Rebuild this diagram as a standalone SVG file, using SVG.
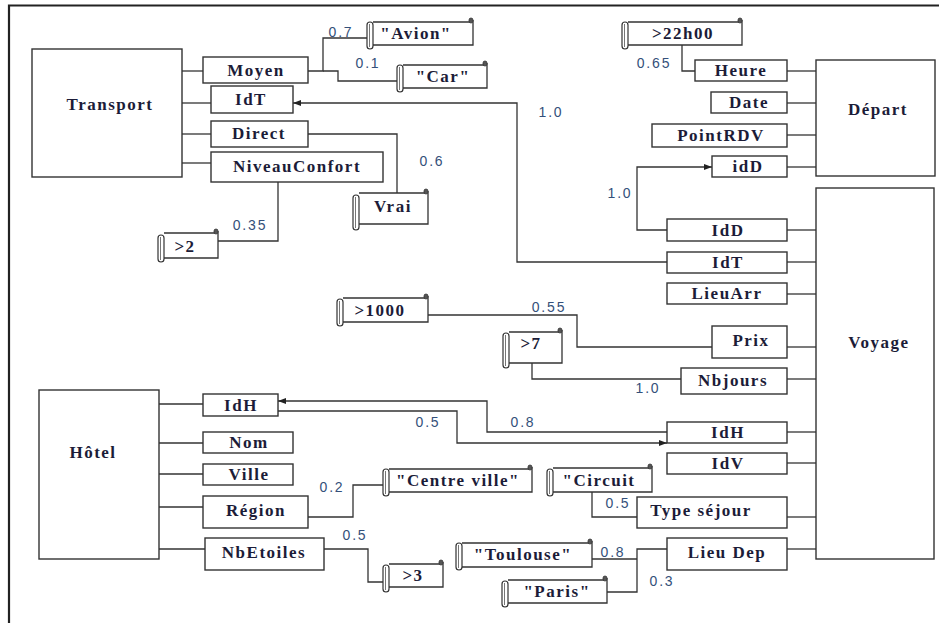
<svg xmlns="http://www.w3.org/2000/svg" width="939" height="623" viewBox="0 0 939 623">
<style>
.bg{fill:#ffffff}
.frame{stroke:#222;stroke-width:2.2;fill:none}
.box{fill:#fff;stroke:#333;stroke-width:1.4}
.t{font-family:"Liberation Serif","Times New Roman",serif;font-weight:bold;font-size:17px;letter-spacing:1.5px;fill:#1c1c38;text-anchor:middle}
.lbl{font-family:"Liberation Sans",Arial,sans-serif;font-size:14px;letter-spacing:1.8px;fill:#34507a;text-anchor:middle}
.c{fill:none;stroke:#333;stroke-width:1.3}
.sb{fill:#fff;stroke:#333;stroke-width:1.3}
.roll{fill:#fff;stroke:#333;stroke-width:1.2}
.rl{stroke:#666;stroke-width:0.9;fill:none}
.curl{fill:#555;stroke:#333;stroke-width:0.8}
</style>
<defs>
<marker id="ah" markerUnits="userSpaceOnUse" markerWidth="9" markerHeight="7" refX="8" refY="3" orient="auto">
<path d="M0,0 L8,3 L0,6 z" fill="#222"/>
</marker>
</defs>
<rect class="bg" x="0" y="0" width="939" height="623"/>
<path class="frame" d="M9,623 V5.5 H939"/>

<g id="connectors">
<path class="c" d="M182,71 H203"/>
<path class="c" d="M182,103 H211"/>
<path class="c" d="M182,134 H211"/>
<path class="c" d="M182,163 H211"/>
<path class="c" d="M787,71 H816"/>
<path class="c" d="M787,103 H816"/>
<path class="c" d="M787,135 H816"/>
<path class="c" d="M787,167 H816"/>
<path class="c" d="M787,230 H816"/>
<path class="c" d="M787,262 H816"/>
<path class="c" d="M787,294 H816"/>
<path class="c" d="M787,347 H816"/>
<path class="c" d="M787,379 H816"/>
<path class="c" d="M787,432 H816"/>
<path class="c" d="M787,463 H816"/>
<path class="c" d="M787,517 H816"/>
<path class="c" d="M787,549 H816"/>
<path class="c" d="M159,404 H203"/>
<path class="c" d="M159,443 H203"/>
<path class="c" d="M159,474 H203"/>
<path class="c" d="M159,507 H203"/>
<path class="c" d="M159,549 H205"/>
<path class="c" d="M308,71 H323 V38 H367"/>
<path class="c" d="M323,71 H338 V81 H397"/>
<path class="c" d="M667,262 H517 V103 H293" marker-end="url(#ah)"/>
<path class="c" d="M308,134 H397 V193"/>
<path class="c" d="M278,182 V241 H218"/>
<path class="c" d="M682,45 V71 H695"/>
<path class="c" d="M667,230 H637 V167 H712" marker-end="url(#ah)"/>
<path class="c" d="M712,347 H577 V315 H428"/>
<path class="c" d="M681,379 H532 V363"/>
<path class="c" d="M667,432 H487 V401 H278" marker-end="url(#ah)"/>
<path class="c" d="M278,411 H457 V443 H667" marker-end="url(#ah)"/>
<path class="c" d="M637,517 H592 V492"/>
<path class="c" d="M308,517 H353 V485 H383"/>
<path class="c" d="M324,549 H368 V582 H383"/>
<path class="c" d="M667,549 H637 V592 H607"/>
<path class="c" d="M637,559 H592"/>
<text class="lbl" x="341" y="37">0.7</text>
<text class="lbl" x="368" y="68">0.1</text>
<text class="lbl" x="551" y="117">1.0</text>
<text class="lbl" x="432" y="166">0.6</text>
<text class="lbl" x="250" y="230">0.35</text>
<text class="lbl" x="654" y="68">0.65</text>
<text class="lbl" x="620" y="198">1.0</text>
<text class="lbl" x="549" y="312">0.55</text>
<text class="lbl" x="648" y="393">1.0</text>
<text class="lbl" x="523" y="427">0.8</text>
<text class="lbl" x="428" y="427">0.5</text>
<text class="lbl" x="332" y="492">0.2</text>
<text class="lbl" x="355" y="540">0.5</text>
<text class="lbl" x="618" y="508">0.5</text>
<text class="lbl" x="613" y="557">0.8</text>
<text class="lbl" x="662" y="586">0.3</text>
</g>

<g id="transport">
<rect class="box" x="32" y="49" width="150" height="128"/>
<text class="t" x="110" y="110">Transport</text>
</g>
<g id="t-moyen"><rect class="box" x="203" y="57" width="105" height="26"/><text class="t" x="256" y="76">Moyen</text></g>
<g id="t-idt"><rect class="box" x="211" y="86" width="82" height="27"/><text class="t" x="251" y="105">IdT</text></g>
<g id="t-direct"><rect class="box" x="211" y="121" width="97" height="26"/><text class="t" x="259" y="139">Direct</text></g>
<g id="t-niveau"><rect class="box" x="211" y="152" width="172" height="30"/><text class="t" x="297" y="172">NiveauConfort</text></g>

<g id="depart">
<rect class="box" x="816" y="60" width="119" height="116"/>
<text class="t" x="878" y="115">Départ</text>
</g>
<g id="d-heure"><rect class="box" x="695" y="60" width="92" height="21"/><text class="t" x="741" y="76">Heure</text></g>
<g id="d-date"><rect class="box" x="711" y="92" width="76" height="21"/><text class="t" x="749" y="108">Date</text></g>
<g id="d-point"><rect class="box" x="652" y="124" width="135" height="23"/><text class="t" x="721" y="141">PointRDV</text></g>
<g id="d-idd"><rect class="box" x="712" y="156" width="75" height="21"/><text class="t" x="748" y="172">idD</text></g>

<g id="voyage">
<rect class="box" x="816" y="188" width="118" height="371"/>
<text class="t" x="879" y="348">Voyage</text>
</g>
<g id="v-idd"><rect class="box" x="667" y="219" width="120" height="22"/><text class="t" x="728" y="236">IdD</text></g>
<g id="v-idt"><rect class="box" x="667" y="252" width="120" height="21"/><text class="t" x="728" y="268">IdT</text></g>
<g id="v-lieuarr"><rect class="box" x="667" y="283" width="120" height="21"/><text class="t" x="727" y="299">LieuArr</text></g>
<g id="v-prix"><rect class="box" x="712" y="326" width="75" height="32"/><text class="t" x="751" y="346">Prix</text></g>
<g id="v-nbjours"><rect class="box" x="681" y="368" width="106" height="26"/><text class="t" x="733" y="386">Nbjours</text></g>
<g id="v-idh"><rect class="box" x="667" y="422" width="120" height="21"/><text class="t" x="728" y="438">IdH</text></g>
<g id="v-idv"><rect class="box" x="667" y="453" width="120" height="21"/><text class="t" x="728" y="469">IdV</text></g>
<g id="v-type"><rect class="box" x="637" y="497" width="150" height="31"/><text class="t" x="701" y="516">Type séjour</text></g>
<g id="v-lieudep"><rect class="box" x="667" y="538" width="120" height="32"/><text class="t" x="727" y="558">Lieu Dep</text></g>

<g id="hotel">
<rect class="box" x="39" y="390" width="120" height="169"/>
<text class="t" x="93" y="458">Hôtel</text>
</g>
<g id="h-idh"><rect class="box" x="203" y="394" width="75" height="22"/><text class="t" x="241" y="411">IdH</text></g>
<g id="h-nom"><rect class="box" x="203" y="432" width="90" height="21"/><text class="t" x="249" y="448">Nom</text></g>
<g id="h-ville"><rect class="box" x="203" y="464" width="90" height="21"/><text class="t" x="249" y="480">Ville</text></g>
<g id="h-region"><rect class="box" x="203" y="496" width="105" height="32"/><text class="t" x="256" y="516">Région</text></g>
<g id="h-nbetoiles"><rect class="box" x="205" y="538" width="119" height="32"/><text class="t" x="264" y="558">NbEtoiles</text></g>

<g id="s-avion">
<path class="sb" d="M373,22 H470 M473,20 V45 H373"/>
<rect class="curl" x="469" y="18" width="4" height="5" rx="2"/>
<rect class="roll" x="367" y="22" width="6" height="27" rx="3"/><path class="rl" d="M369.5,24 V47"/>
<text class="t" x="416" y="39">"Avion"</text>
</g>
<g id="s-car">
<path class="sb" d="M403,65 H484 M487,63 V88 H403"/>
<rect class="curl" x="483" y="61" width="4" height="5" rx="2"/>
<rect class="roll" x="397" y="65" width="6" height="27" rx="3"/><path class="rl" d="M399.5,67 V90"/>
<text class="t" x="443" y="82">"Car"</text>
</g>
<g id="s-22h">
<path class="sb" d="M628,22 H739 M742,20 V45 H628"/>
<rect class="curl" x="738" y="18" width="4" height="5" rx="2"/>
<rect class="roll" x="622" y="22" width="6" height="27" rx="3"/><path class="rl" d="M624.5,24 V47"/>
<text class="t" x="683" y="39">&gt;22h00</text>
</g>
<g id="s-vrai">
<path class="sb" d="M359,193 H425 M428,191 V224 H359"/>
<rect class="curl" x="424" y="189" width="4" height="5" rx="2"/>
<rect class="roll" x="353" y="195" width="6" height="35" rx="3"/><path class="rl" d="M355.5,197 V228"/>
<text class="t" x="393" y="212">Vrai</text>
</g>
<g id="s-gt2">
<path class="sb" d="M164,233 H215 M218,231 V258 H164"/>
<rect class="curl" x="214" y="229" width="4" height="5" rx="2"/>
<rect class="roll" x="158" y="235" width="6" height="27" rx="3"/><path class="rl" d="M160.5,237 V260"/>
<text class="t" x="185" y="252">&gt;2</text>
</g>
<g id="s-gt1000">
<path class="sb" d="M343,298 H425 M428,296 V322 H343"/>
<rect class="curl" x="424" y="294" width="4" height="5" rx="2"/>
<rect class="roll" x="337" y="299" width="6" height="27" rx="3"/><path class="rl" d="M339.5,301 V324"/>
<text class="t" x="380" y="316">&gt;1000</text>
</g>
<g id="s-gt7">
<path class="sb" d="M509,332 H559 M562,330 V363 H509"/>
<rect class="curl" x="558" y="328" width="4" height="5" rx="2"/>
<rect class="roll" x="503" y="333" width="6" height="35" rx="3"/><path class="rl" d="M505.5,335 V366"/>
<text class="t" x="531" y="349">&gt;7</text>
</g>
<g id="s-centre">
<path class="sb" d="M389,469 H529 M532,467 V492 H389"/>
<rect class="curl" x="528" y="465" width="4" height="5" rx="2"/>
<rect class="roll" x="383" y="469" width="6" height="27" rx="3"/><path class="rl" d="M385.5,471 V494"/>
<text class="t" x="458" y="486">"Centre ville"</text>
</g>
<g id="s-circuit">
<path class="sb" d="M553,468 H649 M652,466 V492 H553"/>
<rect class="curl" x="648" y="464" width="4" height="5" rx="2"/>
<rect class="roll" x="547" y="469" width="6" height="27" rx="3"/><path class="rl" d="M549.5,471 V494"/>
<text class="t" x="599" y="486">"Circuit</text>
</g>
<g id="s-gt3">
<path class="sb" d="M389,564 H440 M443,562 V587 H389"/>
<rect class="curl" x="439" y="560" width="4" height="5" rx="2"/>
<rect class="roll" x="383" y="565" width="6" height="27" rx="3"/><path class="rl" d="M385.5,567 V590"/>
<text class="t" x="413" y="581">&gt;3</text>
</g>
<g id="s-toulouse">
<path class="sb" d="M462,543 H589 M592,541 V567 H462"/>
<rect class="curl" x="588" y="539" width="4" height="5" rx="2"/>
<rect class="roll" x="456" y="543" width="6" height="27" rx="3"/><path class="rl" d="M458.5,545 V568"/>
<text class="t" x="523" y="560">"Toulouse"</text>
</g>
<g id="s-paris">
<path class="sb" d="M508,580 H604 M607,578 V603 H508"/>
<rect class="curl" x="603" y="576" width="4" height="5" rx="2"/>
<rect class="roll" x="502" y="581" width="6" height="26" rx="3"/><path class="rl" d="M504.5,583 V605"/>
<text class="t" x="557" y="597">"Paris"</text>
</g>
</svg>
